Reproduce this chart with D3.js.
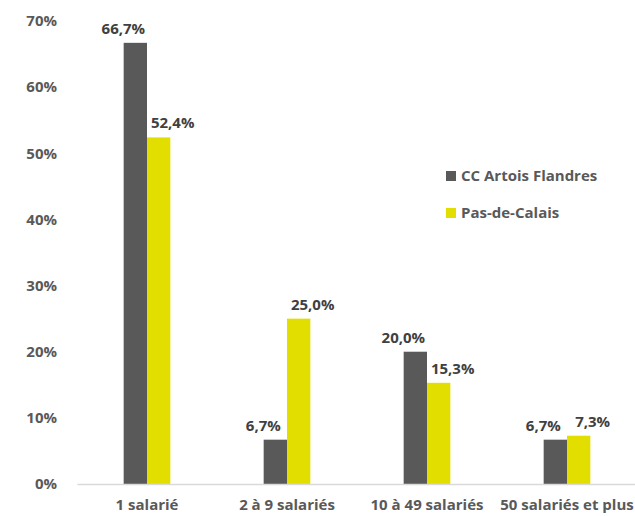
<!DOCTYPE html>
<html>
<head>
<meta charset="utf-8">
<script src="https://cdn.jsdelivr.net/npm/d3@7"></script>
<style>
  body { margin: 0; background: #fff; }
  text { font-family: "Open Sans", "Liberation Sans", sans-serif; font-weight: bold; }
</style>
</head>
<body>
<svg id="chart" width="635" height="516"></svg>
<script>
// Données
const categories = ['1 salarié', '2 à 9 salariés', '10 à 49 salariés', '50 salariés et plus']
const seriesNames = ['CC Artois Flandres', 'Pas-de-Calais']
const artois = [66.7, 6.7, 20.0, 6.7]
const pasDeCalais = [52.4, 25.0, 15.3, 7.3]
const yTicks = [0, 10, 20, 30, 40, 50, 60, 70]

const colors = ['#595959', '#e2de00']
const series = [artois, pasDeCalais]
const fontSize = '15px'

const svg = d3.select('#chart')
const margin = { left: 77, right: -2, top: 21, bottom: 32 }
const width = +svg.attr('width'),
    height = +svg.attr('height')

const x0 = d3.scaleBand()
    .domain(categories)
    .range([margin.left, width - margin.right])
    .paddingInner(2 / 3)
    .paddingOuter(1 / 3)

const x1 = d3.scaleBand()
    .domain(seriesNames)
    .range([0, x0.bandwidth()])

const y = d3.scaleLinear()
    .domain([0, 70])
    .range([height - margin.bottom, margin.top])

// Axe Y (sans ligne, seulement les étiquettes)
const yAxis = svg.append('g')
    .attr('transform', `translate(${margin.left - 17},0)`)
    .call(d3.axisLeft(y).tickValues(yTicks).tickSize(0).tickFormat(d => d + '%'))
yAxis.select('.domain').remove()
yAxis.selectAll('text')
    .attr('fill', '#595959')
    .style('font-size', fontSize)
    .style('font-family', '"Open Sans", sans-serif')
    .style('font-weight', 'bold')

// Barres
const groups = svg.append('g')
    .selectAll('g')
    .data(categories)
    .join('g')
    .attr('transform', d => `translate(${x0(d)},0)`)

groups.selectAll('rect')
    .data((c, i) => series.map((s, k) => ({ name: seriesNames[k], value: s[i], k })))
    .join('rect')
    .attr('x', d => x1(d.name))
    .attr('y', d => y(d.value))
    .attr('width', x1.bandwidth())
    .attr('height', d => y(0) - y(d.value))
    .attr('fill', d => colors[d.k])

// Étiquettes de valeurs (décalées comme dans l'original)
groups.selectAll('text.val')
    .data((c, i) => series.map((s, k) => ({ name: seriesNames[k], value: s[i], k })))
    .join('text')
    .attr('class', 'val')
    .attr('x', d => x1(d.name) + x1.bandwidth() / 2 + (d.k === 0 ? -12 : 14))
    .attr('y', d => y(d.value) - 9)
    .attr('text-anchor', 'middle')
    .attr('fill', '#404040')
    .style('font-size', fontSize)
    .text(d => d.value.toFixed(1).replace('.', ',') + '%')

// Axe X
const xAxis = svg.append('g')
    .attr('transform', `translate(0,${y(0)})`)
    .call(d3.axisBottom(x0).tickSize(0).tickPadding(15))
xAxis.select('.domain').attr('stroke', '#d9d9d9').attr('stroke-width', 1.5)
xAxis.selectAll('text')
    .attr('fill', '#595959')
    .style('font-size', fontSize)
    .style('font-family', '"Open Sans", sans-serif')
    .style('font-weight', 'bold')

// Légende
const legend = svg.append('g')
    .selectAll('g')
    .data(seriesNames)
    .join('g')
    .attr('transform', (d, i) => `translate(446,${171 + i * 37})`)
legend.append('rect')
    .attr('width', 10)
    .attr('height', 10)
    .attr('fill', (d, i) => colors[i])
legend.append('text')
    .attr('x', 15)
    .attr('y', 5)
    .attr('dy', '0.35em')
    .attr('fill', '#595959')
    .style('font-size', fontSize)
    .text(d => d)
</script>
</body>
</html>
